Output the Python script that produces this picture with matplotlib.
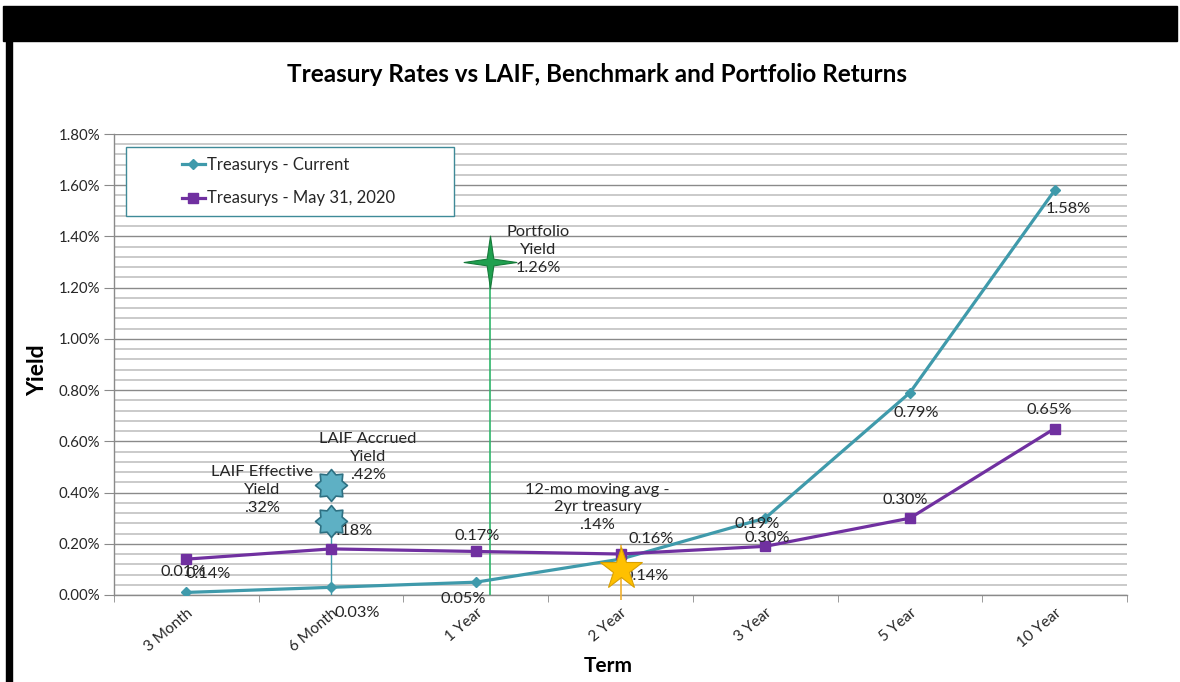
import matplotlib
matplotlib.use('Agg')
import matplotlib.pyplot as plt
from matplotlib.path import Path
from matplotlib.ticker import MultipleLocator, FuncFormatter, FixedLocator
import matplotlib.patches as mpatches

# ---------------- data ----------------
terms = ['3 Month', '6 Month', '1 Year', '2 Year', '3 Year', '5 Year', '10 Year']
current = [0.01, 0.03, 0.05, 0.14, 0.30, 0.79, 1.58]
may2020 = [0.14, 0.18, 0.17, 0.16, 0.19, 0.30, 0.65]
current_labels = ['0.01%', '0.03%', '0.05%', '0.14%', '0.19%', '0.79%', '1.58%']
may_labels = ['0.14%', '0.18%', '0.17%', '0.16%', '0.30%', '0.30%', '0.65%']

portfolio_pos, portfolio_yield = 2.1, 1.30
laif_pos = 1.0
laif_accrued, laif_effective = 0.43, 0.29
mavg_pos, mavg_yield = 3.0, 0.10

portfolio_text = 'Portfolio\nYield\n1.26%'
laif_acc_text = 'LAIF Accrued\nYield\n.42%'
laif_eff_text = 'LAIF Effective\nYield\n.32%'
mavg_text = '12-mo moving avg -\n2yr treasury\n.14%'

# ---------------- style ----------------
plt.rcParams['font.family'] = ['Lato', 'DejaVu Sans']
TEAL = '#3F9AAB'
PURPLE = '#7030A0'
TXT = '#262626'
PX = 0.72  # points per pixel at dpi 100
LBL = 11.8

fig = plt.figure(figsize=(11.8, 6.82), dpi=100)
fig.patch.set_facecolor('white')

# black frame parts
fig.add_artist(mpatches.Rectangle((3/1180, 1-41/682), 1174/1180, 35/682,
                                  transform=fig.transFigure, color='black', zorder=0))
fig.add_artist(mpatches.Rectangle((6/1180, 0), 6/1180, 1-41/682,
                                  transform=fig.transFigure, color='black', zorder=0))

ax = fig.add_axes([114/1180, 1-595/682, 1013/1180, 461/682])
x = list(range(len(terms)))
ax.set_xlim(-0.5, len(terms)-0.5)
ax.set_ylim(0, 1.80)

# grid
ax.yaxis.set_major_locator(MultipleLocator(0.2))
ax.yaxis.set_minor_locator(MultipleLocator(0.04))
ax.grid(which='minor', axis='y', color='#c6c6c6', lw=1.3, zorder=0)
ax.grid(which='major', axis='y', color='#8a8a8a', lw=1.0, zorder=0)
ax.yaxis.set_major_formatter(FuncFormatter(lambda v, p: f'{v:.2f}%'))

for s in ['top', 'right']:
    ax.spines[s].set_visible(False)
for s in ['left', 'bottom']:
    ax.spines[s].set_color('#8a8a8a')
    ax.spines[s].set_linewidth(1.0)

ax.tick_params(axis='y', which='major', direction='out', length=7, color='#8a8a8a',
               labelsize=10.8, labelcolor=TXT, pad=3)
ax.tick_params(axis='y', which='minor', length=0)
ax.set_xticks(x)
ax.set_xticklabels(terms, rotation=40, ha='right', va='top', rotation_mode='anchor')
ax.tick_params(axis='x', which='major', length=0, labelsize=11, labelcolor=TXT, pad=8)
ax.xaxis.set_minor_locator(FixedLocator([i - 0.5 for i in range(len(terms)+1)]))
ax.tick_params(axis='x', which='minor', direction='out', length=5, color='#8a8a8a')

# series
ax.plot(x, current, color=TEAL, lw=2.3, marker='D', ms=5.5, mfc=TEAL, mec=TEAL,
        label='Treasurys - Current', zorder=4)
ax.plot(x, may2020, color=PURPLE, lw=2.3, marker='s', ms=6.5, mfc=PURPLE, mec=PURPLE,
        label='Treasurys - May 31, 2020', zorder=4)

cur_off = [(-3, 20), (26, -26), (-13, -17), (26, -17), (-8, -6), (6, -20), (14, -19)]
may_off = [(22, -15), (19, 18), (1, 15), (31, 15), (2, 8), (-5, 18), (-5, 19)]
for i in x:
    ax.annotate(current_labels[i], (x[i], current[i]), xytext=(cur_off[i][0]*PX, cur_off[i][1]*PX),
                textcoords='offset points', ha='center', va='center', fontsize=LBL, color=TXT, zorder=5)
    ax.annotate(may_labels[i], (x[i], may2020[i]), xytext=(may_off[i][0]*PX, may_off[i][1]*PX),
                textcoords='offset points', ha='center', va='center', fontsize=LBL, color=TXT, zorder=5)

# custom star markers
star4 = Path.unit_regular_star(4, 0.18)
star8 = Path.unit_regular_star(8, 0.72)

# portfolio yield
ax.vlines(portfolio_pos, 0, portfolio_yield, color='#2DB56A', lw=1.2, zorder=3)
ax.plot([portfolio_pos], [portfolio_yield], marker=star4, ms=38, mfc='#1FA04F', mec='#167A3A',
        mew=0.8, ls='none', zorder=7)
ax.annotate(portfolio_text, (portfolio_pos, portfolio_yield), xytext=(48*PX, 12*PX),
            textcoords='offset points', ha='center', va='center', fontsize=LBL, color=TXT,
            linespacing=1.35, zorder=8)

# LAIF
ax.vlines(laif_pos, 0, laif_effective, color=TEAL, lw=1.0, zorder=3)
for v in (laif_accrued, laif_effective):
    ax.plot([laif_pos], [v], marker=star8, ms=23, mfc='#5EB0C4', mec='#2E7082', mew=1.2,
            ls='none', zorder=7)
ax.annotate(laif_acc_text, (laif_pos, laif_accrued), xytext=(37*PX, 28*PX),
            textcoords='offset points', ha='center', va='center', fontsize=LBL, color=TXT,
            linespacing=1.35, zorder=8)
ax.annotate(laif_eff_text, (laif_pos, laif_effective), xytext=(-69*PX, 31*PX),
            textcoords='offset points', ha='center', va='center', fontsize=LBL, color=TXT,
            linespacing=1.35, zorder=8)

# 12-mo moving average
ax.vlines(mavg_pos, -0.02, mavg_yield + 0.095, color='#F0B030', lw=1.2, zorder=3, clip_on=False)
ax.plot([mavg_pos], [mavg_yield], marker='*', ms=32, mfc='#FFC000', mec='#D9A000', mew=0.8,
        ls='none', zorder=7)
ax.annotate(mavg_text, (mavg_pos, mavg_yield), xytext=(-23*PX, 62*PX),
            textcoords='offset points', ha='center', va='center', fontsize=LBL, color=TXT,
            linespacing=1.35, zorder=8)

# legend with box
ax.add_patch(mpatches.Rectangle(((126-114)/1013, (595-216)/461), (454-126)/1013, (216-147)/461,
                                transform=ax.transAxes, facecolor='white', edgecolor='#3F8A98',
                                lw=1.0, zorder=6))
leg = ax.legend(loc='upper left', bbox_to_anchor=((182-114)/1013, (595-157)/461),
                frameon=False, fontsize=12, handlelength=1.35, handletextpad=0.15,
                labelspacing=1.05, borderpad=0, borderaxespad=0)
leg.set_zorder(9)
for t in leg.get_texts():
    t.set_color(TXT)

ax.set_title('Treasury Rates vs LAIF, Benchmark and Portfolio Returns', fontsize=17.5,
             fontweight='bold', color='black', pad=0, x=0.477, y=(595-75)/461, va='center')
ax.set_ylabel('Yield', fontsize=16.5, fontweight='bold', color='black')
ax.yaxis.set_label_coords((38-114)/1013, (595-370)/461)
ax.set_xlabel('Term', fontsize=15, fontweight='bold', color='black')
ax.xaxis.set_label_coords((608-114)/1013, (595-666)/461)
ax.xaxis.label.set_va('center')
ax.yaxis.label.set_va('center')

fig.savefig('out.png', dpi=100, facecolor='white')
